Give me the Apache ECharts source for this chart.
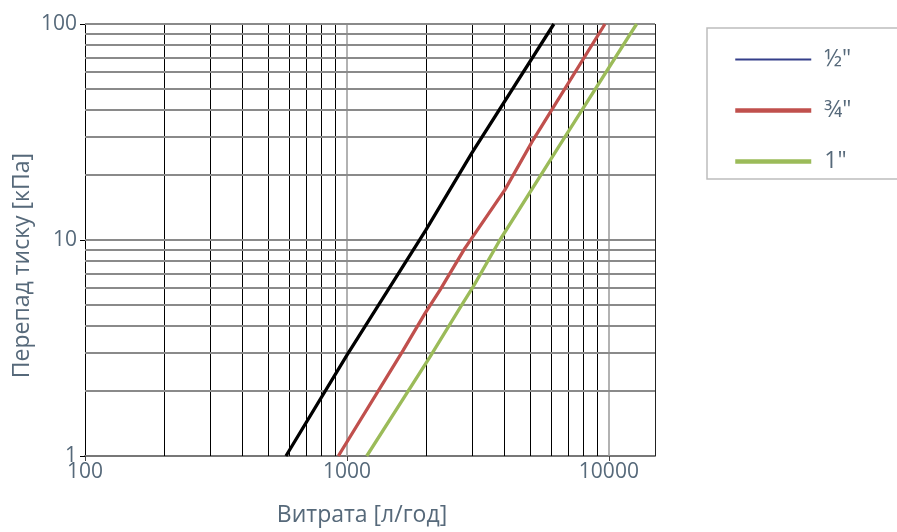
<!DOCTYPE html>
<html><head><meta charset="utf-8">
<script src="https://cdn.jsdelivr.net/npm/echarts@6/dist/echarts.min.js"></script>
<style>html,body{margin:0;padding:0;background:#fff}#c{width:897px;height:532px}</style>
</head><body><div id="c"></div>
<script>
const seriesNames = ['½"', '¾"', '1"'];
const flowHalf = [585, 1000, 2000, 3000, 6166];
const dpHalf = [1, 2.93, 11.1, 25.3, 100];
const flowThreeQuarter = [927, 1641, 1986, 2265, 2818, 4008, 5141, 9661];
const dpThreeQuarter = [1, 3.09, 4.57, 5.86, 9.15, 17.06, 29.1, 100];
const flowOne = [1190, 2075, 2741, 3035, 3837, 6501, 12760];
const dpOne = [1, 2.88, 5.0, 6.08, 10, 27.6, 100];
const xTickLabels = [100, 1000, 10000];
const yTickLabels = [1, 10, 100];
const xGridMinor = [200, 300, 400, 500, 600, 700, 800, 900, 2000, 3000, 4000, 5000, 6000, 7000, 8000, 9000];
const xGridMajor = [1000, 10000];
const xEdge = [15000];
const yGrid = [2, 3, 4, 5, 6, 7, 8, 9, 10, 20, 30, 40, 50, 60, 70, 80, 90, 100];
const xName = 'Витрата [л/год]';
const yName = 'Перепад тиску [кПа]';

const textColor = '#56697a';
const font = 'Open Sans';
const zip = (a, b) => a.map((v, i) => [v, b[i]]);

const gridLines = []
  .concat(xGridMinor.map(v => ({ xAxis: v, lineStyle: { color: '#000', width: 1, type: 'solid' } })))
  .concat(xGridMajor.map(v => ({ xAxis: v, lineStyle: { color: '#999', width: 1.5, type: 'solid' } })))
  .concat(xEdge.map(v => ({ xAxis: v, lineStyle: { color: '#222', width: 1, type: 'solid' } })))
  .concat(yGrid.map(v => ({ yAxis: v, lineStyle: { color: '#8a8a8a', width: 2, type: 'solid' } })));

const chart = echarts.init(document.getElementById('c'), null, { renderer: 'canvas' });
chart.setOption({
  animation: false,
  backgroundColor: '#fff',
  grid: { left: 85, right: 242, top: 24, bottom: 76 },
  legend: {
    left: 707, top: 28,
    orient: 'vertical',
    data: [
      { name: seriesNames[0], lineStyle: { color: '#343f8a', width: 2 } },
      { name: seriesNames[1], lineStyle: { width: 4.5 } },
      { name: seriesNames[2], lineStyle: { width: 4.5 } }
    ],
    itemWidth: 76, itemHeight: 24, itemGap: 28,
    itemStyle: { opacity: 0 },
    padding: [20, 140, 6, 26],
    borderColor: '#bdbdbd', borderWidth: 1.5, borderRadius: 0,
    textStyle: { color: textColor, fontSize: 23, fontFamily: font, padding: [0, 0, 0, 8] }
  },
  xAxis: {
    type: 'log', logBase: 10, min: 100, max: 15000,
    name: xName, nameLocation: 'middle', nameGap: 48,
    nameTextStyle: { color: textColor, fontSize: 23, fontFamily: font, padding: [0, 16, 0, 0] },
    axisLine: { show: true, lineStyle: { color: '#777', width: 2 } },
    axisTick: { show: true, length: 5, lineStyle: { color: '#444', width: 1 } },
    axisLabel: { color: textColor, fontSize: 21, fontFamily: font, margin: 6, showMaxLabel: false,
      formatter: v => (xTickLabels.indexOf(Math.round(v)) >= 0 ? String(Math.round(v)) : '') },
    splitLine: { show: false }, minorSplitLine: { show: false }
  },
  yAxis: {
    type: 'log', logBase: 10, min: 1, max: 100,
    axisLine: { show: true, lineStyle: { color: '#000', width: 1 } },
    axisTick: { show: true, length: 5, lineStyle: { color: '#000', width: 1 } },
    axisLabel: { color: textColor, fontSize: 21, fontFamily: font, margin: 8,
      formatter: v => (yTickLabels.indexOf(Math.round(v)) >= 0 ? String(Math.round(v)) : '') },
    splitLine: { show: false }
  },
  graphic: [{
    type: 'text', left: 11, top: 153, rotation: Math.PI / 2,
    style: { text: yName, fill: textColor, fontSize: 23, fontFamily: font }
  }],
  series: [
    {
      name: '__grid', type: 'line', data: [], silent: true,
      markLine: { silent: true, z: 1, symbol: ['none', 'none'], label: { show: false },
        emphasis: { disabled: true }, animation: false, data: gridLines }
    },
    { name: seriesNames[0], type: 'line', z: 5, showSymbol: false, symbol: 'none', data: zip(flowHalf, dpHalf),
      color: '#000', lineStyle: { color: '#000', width: 3.3 } },
    { name: seriesNames[1], type: 'line', z: 5, showSymbol: false, symbol: 'none', data: zip(flowThreeQuarter, dpThreeQuarter),
      color: '#c0504d', lineStyle: { color: '#c0504d', width: 3.3 } },
    { name: seriesNames[2], type: 'line', z: 5, showSymbol: false, symbol: 'none', data: zip(flowOne, dpOne),
      color: '#9bbb59', lineStyle: { color: '#9bbb59', width: 3.3 } }
  ]
});
</script></body></html>
